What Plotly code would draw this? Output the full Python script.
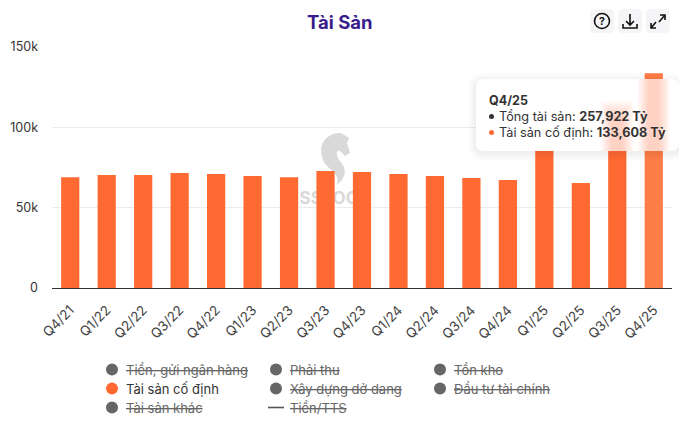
import plotly.graph_objects as go

# Quarterly fixed-asset figures (billion VND)
quarters = ["Q4/21", "Q1/22", "Q2/22", "Q3/22", "Q4/22", "Q1/23", "Q2/23", "Q3/23", "Q4/23",
            "Q1/24", "Q2/24", "Q3/24", "Q4/24", "Q1/25", "Q2/25", "Q3/25", "Q4/25"]
fixed_assets = [69000, 70300, 70300, 71500, 70900, 69700, 69000, 72800, 72200,
                71000, 69700, 68500, 67200, 87000, 65300, 110000, 133608]
total_assets_latest = 257922

legend_rows = [
    ["Tiền, gửi ngân hàng", "Phải thu", "Tồn kho"],
    ["Tài sản cố định", "Xây dựng dở dang", "Đầu tư tài chính"],
    ["Tài sản khác", "Tiền/TTS"],
]
active_series = "Tài sản cố định"
line_series = "Tiền/TTS"

y_ticks = [0, 50000, 100000, 150000]
y_tick_labels = ["0", "50k", "100k", "150k"]

ORANGE = "#FF6A33"
ORANGE_HOVER = "#FF7D47"
FONT = "Inter"

W, H = 679, 432
LEFT, RIGHT, TOP, BOTTOM = 52, 7, 47, 144
PW, PH = W - LEFT - RIGHT, H - TOP - BOTTOM


def px(x):
    return (x - LEFT) / PW


def py(y):
    return (H - BOTTOM - y) / PH


def path_shape(d, **kw):
    """Path given in page pixels, converted to paper coordinates."""
    out, tokens = [], d.replace(",", " ").split()
    is_x = True
    for t in tokens:
        if t.isalpha():
            out.append(t)
            is_x = True
        else:
            v = float(t)
            out.append(f"{px(v):.5f}" if is_x else f"{py(v):.5f}")
            is_x = not is_x
    return dict(type="path", xref="paper", yref="paper", path=" ".join(out), **kw)


def rounded_rect(x0, y0, x1, y1, r):
    return (f"M {x0+r} {y0} L {x1-r} {y0} Q {x1} {y0} {x1} {y0+r} L {x1} {y1-r} Q {x1} {y1} {x1-r} {y1} "
            f"L {x0+r} {y1} Q {x0} {y1} {x0} {y1-r} L {x0} {y0+r} Q {x0} {y0} {x0+r} {y0} Z")


def rect(x0, y0, x1, y1, **kw):
    return dict(type="rect", xref="paper", yref="paper", x0=px(x0), x1=px(x1), y0=py(y0), y1=py(y1), **kw)


def label(x, y, text, size=13, color="#333", xanchor="left", **font_kw):
    return dict(xref="paper", yref="paper", x=px(x), y=py(y), text=text, showarrow=False,
                xanchor=xanchor, yanchor="middle", borderpad=0,
                font=dict(family=FONT, size=size, color=color, **font_kw))


colors = [ORANGE] * (len(quarters) - 1) + [ORANGE_HOVER]
fig = go.Figure(go.Bar(x=quarters, y=fixed_assets, marker=dict(color=colors, line=dict(width=0)),
                       width=0.5, hoverinfo="skip"))

shapes, notes = [], []

# Watermark sits underneath the bars
wm_color = "#d9d9d9"
shapes.append(path_shape(
    "M 321 150 C 321 140 331 132 341 133 L 349 138 L 347 143 L 350 153 L 345 156 L 340 151 "
    "C 336 150 336 155 339 160 C 346 167 348 176 337 185 C 340 175 332 171 327 166 C 323 162 321 156 321 150 Z",
    fillcolor=wm_color, line=dict(width=0), layer="below"))
shapes.append(rect(290, 188, 380, 206, fillcolor="rgba(0,0,0,0)", line=dict(width=0), layer="below",
                   label=dict(text="<b>SSTOCK</b>", textposition="middle center",
                              font=dict(family=FONT, size=17, color=wm_color))))

# Tooltip shadow, panel and the blurred bars behind it
tip = (476, 79, 679, 151)
for grow, alpha in [(8, 0.010), (6, 0.012), (4, 0.016), (2, 0.018)]:
    shapes.append(path_shape(rounded_rect(tip[0]-grow, tip[1]-grow+2, tip[2]+grow, tip[3]+grow+2, 8+grow),
                             fillcolor=f"rgba(0,0,0,{alpha})", line=dict(width=0)))
shapes.append(path_shape(rounded_rect(*tip, 8), fillcolor="rgba(255,255,255,1)", line=dict(width=0)))


def bar_center_px(i):
    return LEFT + PW * (i + 0.5) / len(quarters)


def value_px(v):
    return H - BOTTOM - PH * v / 150000


for i in (15, 16):
    cx = bar_center_px(i)
    top = max(value_px(fixed_assets[i]), tip[1])
    for half, fade in [(16, 0), (14.5, 2), (13, 4), (11.5, 6), (10, 8), (8.5, 10), (7, 12), (5.5, 14)]:
        y0 = tip[1] if top <= tip[1] else top + fade - 10
        shapes.append(rect(cx - half, y0, min(cx + half, tip[2]), tip[3],
                           fillcolor="rgba(255,106,51,0.04)", line=dict(width=0)))

notes.append(label(487.5, 100, f"<b>{quarters[-1]}</b>", size=12.5, color="#333"))
shapes.append(dict(type="circle", xref="paper", yref="paper", x0=px(489), x1=px(494), y0=py(119), y1=py(114),
                   fillcolor="#333", line=dict(width=0)))
shapes.append(dict(type="circle", xref="paper", yref="paper", x0=px(489), x1=px(494), y0=py(135), y1=py(130),
                   fillcolor=ORANGE, line=dict(width=0)))
notes.append(label(498, 116, f"Tổng tài sản: <b>{total_assets_latest:,} Tỷ</b>", size=12.7))
notes.append(label(498, 132, f"Tài sản cố định: <b>{fixed_assets[-1]:,} Tỷ</b>", size=12.7))

# Title
notes.append(label(339.5, 22, "<b>Tài Sản</b>", size=18.5, color="#3A1C8C", xanchor="center"))

# Toolbar buttons
for bx in (590, 618, 646):
    shapes.append(path_shape(rounded_rect(bx, 9, bx + 24, 33, 5), fillcolor="#F5F5F7", line=dict(width=0)))
icon_line = dict(color="#111", width=1.6)
shapes.append(dict(type="circle", xref="paper", yref="paper", x0=px(594.5), x1=px(609.5), y0=py(28.5), y1=py(13.5),
                   line=icon_line))
notes.append(label(602, 21.5, "<b>?</b>", size=10.5, color="#111", xanchor="center"))
shapes.append(path_shape("M 630 14 L 630 25 M 626 21 L 630 25 L 634 21 M 623 24 L 623 28 L 637 28 L 637 24", line=icon_line))
shapes.append(path_shape("M 659 22 L 665 15 M 660 15 L 665 15 L 665 20 M 656 22 L 651 28 M 651 23 L 651 28 L 656 28",
                         line=icon_line))

# Series key
col_dot = [112, 276, 440]
col_text = [124.5, 288.5, 452.5]
row_y = [369.5, 388.5, 407.5]
for r, row in enumerate(legend_rows):
    for c, name in enumerate(row):
        on = name == active_series
        if name == line_series:
            shapes.append(path_shape(f"M {col_dot[c]-8} {row_y[r]} L {col_dot[c]+8} {row_y[r]}",
                                     line=dict(color="#555", width=1.6)))
        else:
            shapes.append(dict(type="circle", xref="paper", yref="paper",
                               x0=px(col_dot[c]-6), x1=px(col_dot[c]+6), y0=py(row_y[r]+6), y1=py(row_y[r]-6),
                               fillcolor=ORANGE if on else "#666", line=dict(width=0)))
        if on:
            notes.append(label(col_text[c], row_y[r], name, size=13, color="#333"))
        else:
            notes.append(label(col_text[c], row_y[r], name, size=13, color="#666", lineposition="through"))

fig.update_layout(
    width=W, height=H, autosize=False,
    margin=dict(l=LEFT, r=RIGHT, t=TOP, b=BOTTOM, pad=0),
    paper_bgcolor="white", plot_bgcolor="white",
    showlegend=False,
    font=dict(family=FONT, size=12, color="#333"),
    shapes=shapes, annotations=notes,
    xaxis=dict(type="category", tickangle=-45, showgrid=False, showline=True, linecolor="#333", linewidth=1,
               ticks="", tickfont=dict(size=13.5, color="#444"), range=[-0.5, 16.5], ticklabelstandoff=8),
    yaxis=dict(range=[0, 150000], tickvals=y_ticks, ticktext=y_tick_labels, gridcolor="#EBEBEB", gridwidth=1,
               zeroline=False, ticks="", tickfont=dict(size=12.5, color="#333"), ticklabelstandoff=13),
)

fig.write_html("out.html", config=dict(displayModeBar=False))
